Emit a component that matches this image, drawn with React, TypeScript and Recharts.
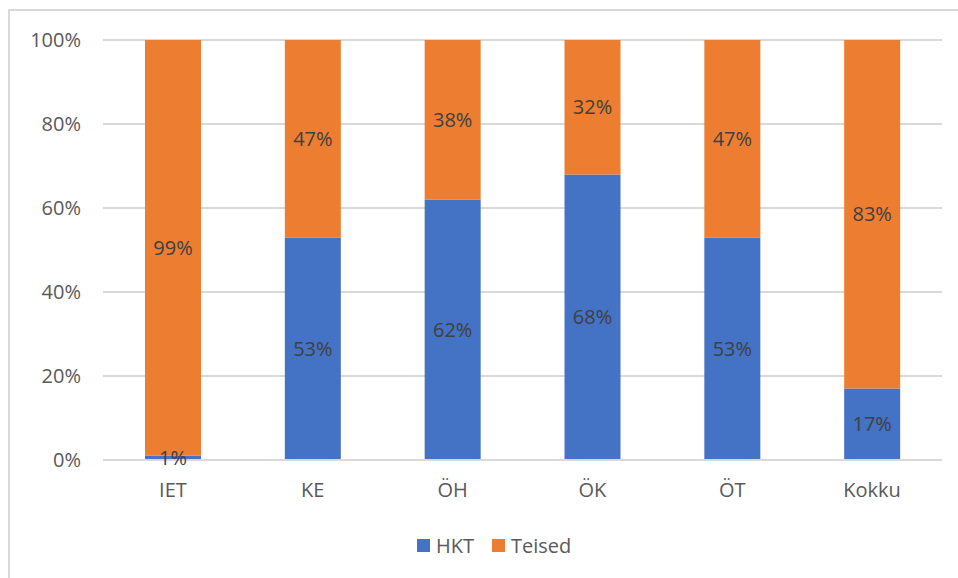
import React from "react";
import { BarChart, Bar, XAxis, YAxis, CartesianGrid, Legend, LabelList } from "recharts";

const categories = ["IET", "KE", "ÖH", "ÖK", "ÖT", "Kokku"];
const hkt = [1, 53, 62, 68, 53, 17];
const teised = [99, 47, 38, 32, 47, 83];
const yTicks = [0, 20, 40, 60, 80, 100];

const BLUE = "#4472C4";
const ORANGE = "#ED7D31";
const FONT = "'Open Sans', 'Liberation Sans', sans-serif";

const data = categories.map((name, i) => ({ name, HKT: hkt[i], Teised: teised[i] }));

const legendItems = [
  { label: "HKT", color: BLUE },
  { label: "Teised", color: ORANGE },
];

function LegendContent() {
  return (
    <div style={{ display: "flex", alignItems: "center", fontFamily: FONT, fontSize: 20, color: "#595959" }}>
      {legendItems.map((it, i) => (
        <div key={i} style={{ display: "flex", alignItems: "center", marginRight: i === 0 ? 18 : 0 }}>
          <span style={{ width: 13, height: 13, background: it.color, display: "inline-block", marginRight: 6 }} />
          <span>{it.label}</span>
        </div>
      ))}
    </div>
  );
}

export default function App() {
  return (
    <div style={{ position: "absolute", left: 0, top: 0, width: 958, height: 578, background: "#fff" }}>
      <div
        style={{
          position: "absolute",
          left: 8,
          top: 9,
          width: 950,
          height: 569,
          borderLeft: "2px solid #d9d9d9",
          borderTop: "2px solid #d9d9d9",
          boxSizing: "border-box",
        }}
      />
      <div style={{ position: "absolute", left: 0, top: 0 }}>
        <BarChart
          width={958}
          height={578}
          data={data}
          margin={{ top: 40, right: 16, left: 0, bottom: 41 }}
          barSize={56}
        >
          <CartesianGrid vertical={false} stroke="#d9d9d9" strokeWidth={2} />
          <XAxis
            dataKey="name"
            axisLine={{ stroke: "#d9d9d9", strokeWidth: 2 }}
            tickLine={false}
            tickSize={0}
            tickMargin={23}
            height={50}
            tick={{ fill: "#595959", fontSize: 20, fontFamily: FONT }}
          />
          <YAxis
            domain={[0, 100]}
            ticks={yTicks}
            tickFormatter={(v) => `${v}%`}
            axisLine={false}
            tickLine={false}
            tickSize={0}
            tickMargin={22}
            width={103}
            tick={{ fill: "#595959", fontSize: 20, fontFamily: FONT }}
          />
          <Legend
            content={<LegendContent />}
            wrapperStyle={{ position: "absolute", top: 532, left: 417, width: "auto" }}
          />
          <Bar dataKey="HKT" stackId="a" fill={BLUE} isAnimationActive={false}>
            <LabelList
              dataKey="HKT"
              position="center"
              formatter={(v: any) => `${v}%`}
              style={{ fill: "#404040", fontSize: 20, fontFamily: FONT }}
            />
          </Bar>
          <Bar dataKey="Teised" stackId="a" fill={ORANGE} isAnimationActive={false}>
            <LabelList
              dataKey="Teised"
              position="center"
              formatter={(v: any) => `${v}%`}
              style={{ fill: "#404040", fontSize: 20, fontFamily: FONT }}
            />
          </Bar>
        </BarChart>
      </div>
    </div>
  );
}
